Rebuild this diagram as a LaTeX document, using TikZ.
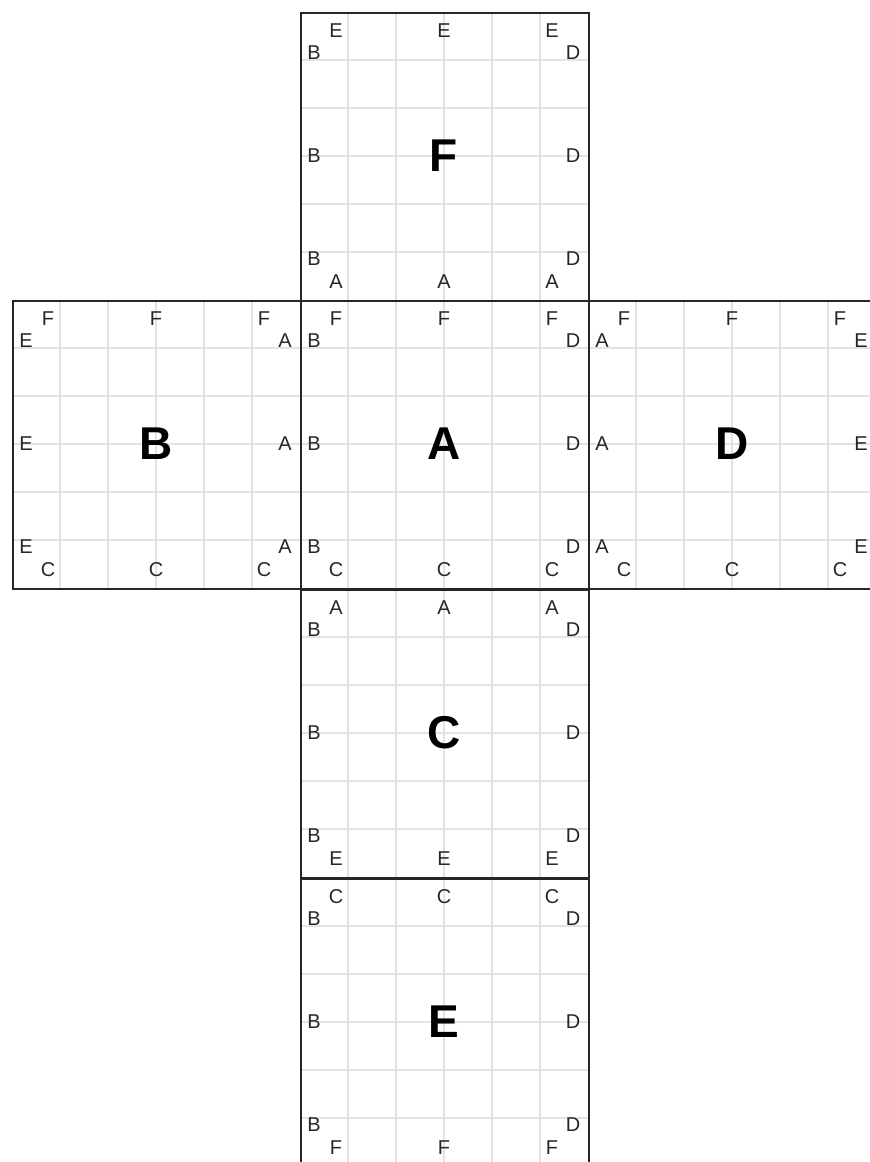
\documentclass[tikz,border=0pt]{standalone}
\usepackage{fontspec}
\setmainfont{Liberation Sans}
\tikzset{
  facebox/.style={draw=black!85, line width=1.5pt, fill=none, inner sep=0pt, minimum size=288pt, anchor=north west},
  gridline/.style={draw=black!11, line width=1.3pt},
  edgelbl/.style={inner sep=0pt, font=\fontsize{20}{20}\selectfont, text=black!85},
  biglbl/.style={inner sep=0pt, font=\fontsize{46}{46}\selectfont\bfseries, text=black},
}
% #1 x0, #2 y0, #3 face name, #4 top, #5 left, #6 right, #7 bottom
\newcommand\cubeface[7]{%
  \begin{scope}[shift={(#1,#2)}]
    \foreach \k in {48,96,144,192,240}{
      \draw[gridline] (\k,0) -- (\k,288);
      \draw[gridline] (0,\k) -- (288,\k);
    }
    \node[facebox] (#3-face) at (0,0) {};
    \node[biglbl] (#3-c) at (144,144) {#3};
    \node[edgelbl] (#3-t1) at (36,19) {#4};
    \node[edgelbl] (#3-t2) at (144,19) {#4};
    \node[edgelbl] (#3-t3) at (252,19) {#4};
    \node[edgelbl] (#3-l1) at (14,41) {#5};
    \node[edgelbl] (#3-l2) at (14,144) {#5};
    \node[edgelbl] (#3-l3) at (14,247) {#5};
    \node[edgelbl] (#3-r1) at (273,41) {#6};
    \node[edgelbl] (#3-r2) at (273,144) {#6};
    \node[edgelbl] (#3-r3) at (273,247) {#6};
    \node[edgelbl] (#3-b1) at (36,270) {#7};
    \node[edgelbl] (#3-b2) at (144,270) {#7};
    \node[edgelbl] (#3-b3) at (252,270) {#7};
  \end{scope}
}
\begin{document}
\begin{tikzpicture}[x=1pt,y=-1pt]
  \useasboundingbox (0,0) rectangle (870,1162);
  \fill[white] (0,0) rectangle (870,1162);
  \clip (0,0) rectangle (870,1162);
  \cubeface{300}{12}{F}{E}{B}{D}{A}
  \cubeface{12}{300}{B}{F}{E}{A}{C}
  \cubeface{300}{300}{A}{F}{B}{D}{C}
  \cubeface{588}{300}{D}{F}{A}{E}{C}
  \cubeface{300}{589}{C}{A}{B}{D}{E}
  \cubeface{300}{878}{E}{C}{B}{D}{F}
\end{tikzpicture}
\end{document}
